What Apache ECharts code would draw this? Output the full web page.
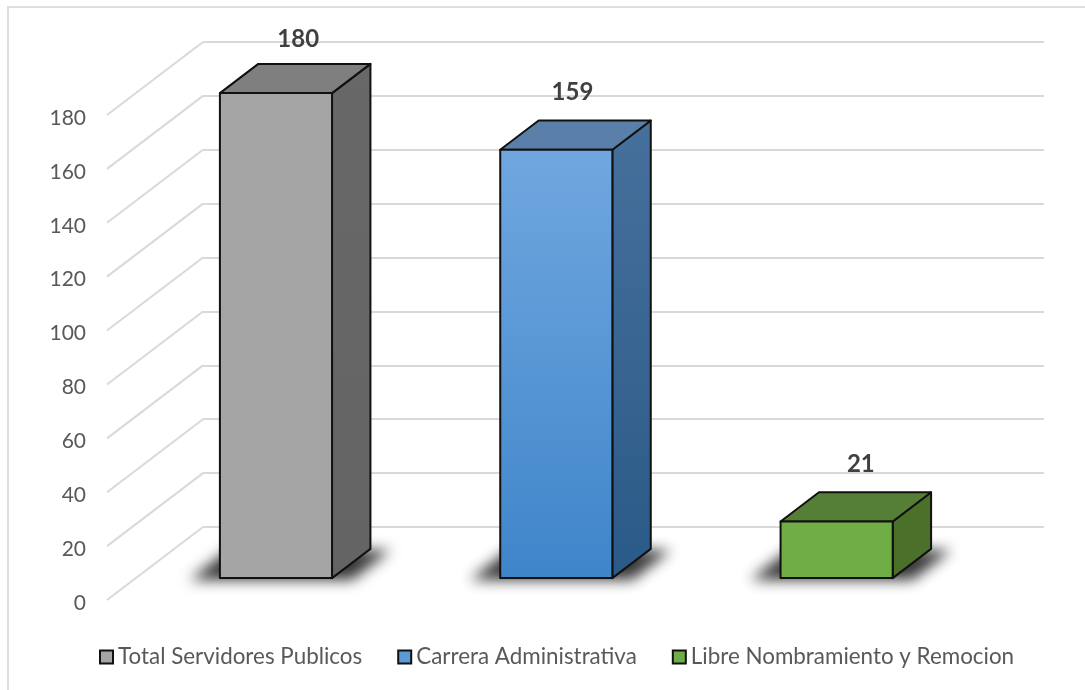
<!DOCTYPE html>
<html>
<head>
<meta charset="utf-8">
<style>
  html, body { margin: 0; padding: 0; background: #fff; }
  #chart { width: 1085px; height: 690px; }
</style>
<script src="https://cdn.jsdelivr.net/npm/echarts@6/dist/echarts.min.js"></script>
</head>
<body>
<div id="chart"></div>
<script>
const categories = ['Total Servidores Publicos', 'Carrera Administrativa', 'Libre Nombramiento y Remocion']
const values = [180, 159, 21]
const yTicks = [0, 20, 40, 60, 80, 100, 120, 140, 160, 180]

// oblique depth of the floor, back wall to front edge
const wallX = 203
const depthX = -96
const depthY = 73
const barFront = 0.7
const barBack = 0.3

const styles = [
  { front: '#a5a5a5', frontEnd: '#a5a5a5', top: '#7f7f7f', side: '#686868', sideEnd: '#646464', legend: '#a5a5a5', nudge: [1, 3] },
  { front: '#70a7df', frontEnd: '#3f85ca', top: '#5a7fa8', side: '#47709c', sideEnd: '#2a5a88', legend: '#5b9bd5', nudge: [-5, 0] },
  { front: '#70ad47', frontEnd: '#70ad47', top: '#557f36', side: '#4a7029', sideEnd: '#4a7029', legend: '#70ad47', nudge: [3, 0] }
]

function vGrad(a, b) {
  return new echarts.graphic.LinearGradient(0, 0, 0, 1, [
    { offset: 0, color: a },
    { offset: 1, color: b }
  ])
}

function barItem(c) {
  return function (params, api) {
    const top = api.coord([api.value(0), api.value(1)])
    const base = api.coord([api.value(0), 0])
    const half = api.size([1, 0])[0] * 0.2
    const fx = depthX * barFront
    const fy = depthY * barFront
    const bx = depthX * barBack
    const by = depthY * barBack

    const l = top[0] + fx - half
    const r = top[0] + fx + half
    const t = top[1] + fy
    const b = base[1] + fy
    const dx = bx - fx
    const dy = by - fy
    const edge = { stroke: '#111', lineWidth: 2, lineJoin: 'round' }
    const off = 3000

    return {
      type: 'group',
      children: [
        {
          // drawn off canvas so only the blurred shadow lands on the floor
          type: 'polygon',
          x: -off,
          shape: { points: [[l - 30, b + 2], [l + dx - 30, b + dy + 1], [r + dx + 20, b + dy + 1], [r + 20, b + 2]] },
          style: { fill: '#000', shadowBlur: 14, shadowColor: 'rgba(20,20,20,0.85)', shadowOffsetX: off }
        },
        {
          type: 'polygon',
          shape: { points: [[r, t], [r + dx, t + dy], [r + dx, b + dy], [r, b]] },
          style: Object.assign({ fill: vGrad(c.side, c.sideEnd) }, edge)
        },
        {
          type: 'polygon',
          shape: { points: [[l, t], [l + dx, t + dy], [r + dx, t + dy], [r, t]] },
          style: Object.assign({ fill: c.top }, edge)
        },
        {
          type: 'rect',
          shape: { x: l, y: t, width: r - l, height: b - t },
          style: Object.assign({ fill: vGrad(c.front, c.frontEnd) }, edge)
        },
        {
          type: 'text',
          x: top[0] + (fx + bx) / 2 + 2 + c.nudge[0],
          y: t + dy - 28 + c.nudge[1],
          style: {
            text: String(api.value(1)),
            fill: '#404040',
            font: 'bold 24px Lato',
            align: 'center',
            verticalAlign: 'middle'
          }
        }
      ]
    }
  }
}

// the diagonal gridlines on the side wall
function wallItem(params, api) {
  const p = api.coord([0, api.value(0)])
  return {
    type: 'line',
    shape: { x1: wallX, y1: p[1], x2: wallX + depthX, y2: p[1] + depthY },
    style: { stroke: '#d9d9d9', lineWidth: 2 }
  }
}

const barSeries = categories.map((name, i) => ({
  name,
  type: 'custom',
  xAxisIndex: 0,
  yAxisIndex: 0,
  z: 3,
  itemStyle: { color: styles[i].legend },
  clip: false,
  data: [[i, values[i]]],
  renderItem: barItem(styles[i])
}))

const chart = echarts.init(document.getElementById('chart'))
chart.setOption({
  animation: false,
  backgroundColor: '#fff',
  textStyle: { fontFamily: 'Lato' },
  graphic: [{
    type: 'rect',
    shape: { x: 8, y: 7, width: 1300, height: 900 },
    style: { fill: 'none', stroke: '#dedede', lineWidth: 2 },
    z: -1
  }],
  grid: [
    { left: wallX, top: 42, width: 841, height: 485 },
    { left: 107, top: 118, width: 841, height: 485 }
  ],
  xAxis: [
    { type: 'category', gridIndex: 0, data: categories, axisLine: { show: false }, axisTick: { show: false }, axisLabel: { show: false } },
    { type: 'category', gridIndex: 1, data: categories, show: false }
  ],
  yAxis: [
    {
      type: 'value', gridIndex: 0, min: 0, max: 180, interval: 20,
      axisLine: { show: false }, axisTick: { show: false }, axisLabel: { show: false },
      splitLine: { lineStyle: { color: '#d9d9d9', width: 2 } }
    },
    {
      type: 'value', gridIndex: 1, min: 0, max: 180, interval: 20,
      axisLine: { show: false }, axisTick: { show: false }, splitLine: { show: false },
      axisLabel: { color: '#595959', fontSize: 21, fontFamily: 'Lato', margin: 21 }
    }
  ],
  legend: {
    left: 94,
    top: 641,
    itemWidth: 13,
    itemHeight: 13,
    itemGap: 35,
    icon: 'rect',
    itemStyle: { borderColor: '#111', borderWidth: 2 },
    textStyle: { color: '#595959', fontSize: 22.4, fontFamily: 'Lato' },
    data: categories
  },
  series: [
    {
      type: 'custom',
      name: 'wall',
      xAxisIndex: 0,
      yAxisIndex: 0,
      z: 1,
      clip: false,
      silent: true,
      data: yTicks.map(v => [v]),
      renderItem: wallItem
    }
  ].concat(barSeries)
})
</script>
</body>
</html>
